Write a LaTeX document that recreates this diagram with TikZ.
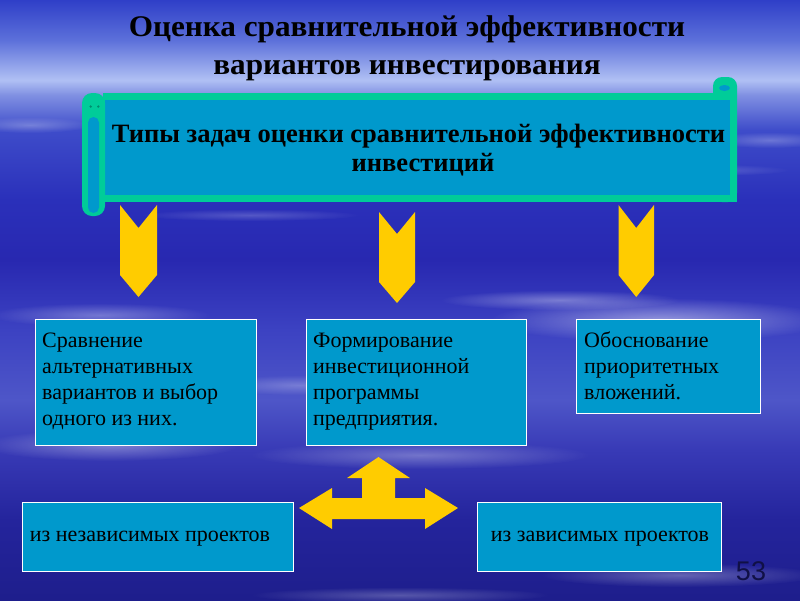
\documentclass[tikz,border=0pt]{standalone}
\usepackage{fontspec}
\setmainfont{Liberation Serif}
\newfontfamily\numfont{Liberation Sans}
\newfontfamily\titlefont[FakeStretch=1.04]{Liberation Serif}
\newfontfamily\boxfont{Liberation Serif}
\usetikzlibrary{fadings}
\tikzfading[name=softcloud, inner color=transparent!0, outer color=transparent!100]
\definecolor{teal}{RGB}{0,204,153}
\definecolor{inner}{RGB}{0,153,204}
\definecolor{gold}{RGB}{255,204,0}
\definecolor{darkteal}{RGB}{0,140,110}
\definecolor{numcol}{RGB}{16,16,70}
\definecolor{b0}{RGB}{47,63,200}
\definecolor{b40}{RGB}{92,112,218}
\definecolor{b80}{RGB}{176,192,244}
\definecolor{b95}{RGB}{128,144,226}
\definecolor{b130}{RGB}{62,76,202}
\definecolor{b200}{RGB}{42,48,186}
\definecolor{b260}{RGB}{40,40,176}
\definecolor{b330}{RGB}{60,66,194}
\definecolor{b400}{RGB}{78,86,200}
\definecolor{b450}{RGB}{56,58,182}
\definecolor{b520}{RGB}{36,36,156}
\definecolor{b600}{RGB}{30,30,140}
\pgfdeclareverticalshading{bgshade}{100bp}{color(0bp)=(b600); color(25bp)=(b600); color(31.67bp)=(b520); color(37.5bp)=(b450); color(41.67bp)=(b400); color(47.5bp)=(b330); color(53.33bp)=(b260); color(58.33bp)=(b200); color(64.17bp)=(b130); color(67.08bp)=(b95); color(68.33bp)=(b80); color(71.67bp)=(b40); color(75bp)=(b0); color(100bp)=(b0)}
\tikzset{
  cloud/.style={fill=white, path fading=softcloud},
  chevron/.style={fill=gold, draw=none},
  infobox/.style={draw=white, line width=1pt, fill=inner},
  boxtext/.style={anchor=base west, inner sep=0pt, font=\boxfont\fontsize{22}{26.3}\selectfont},
  titletext/.style={anchor=base, inner sep=0pt, font=\titlefont\bfseries\fontsize{30}{30}\selectfont},
  scrolltext/.style={anchor=base, inner sep=0pt, font=\bfseries\fontsize{26.5}{26.5}\selectfont},
}
\begin{document}
\begin{tikzpicture}[x=1pt, y=-1pt]
\useasboundingbox (0,0) rectangle (800,600);
% background
\shade[shading=bgshade] (0,0) rectangle (800,600);
\fill[cloud, opacity=0.45] (660,320) ellipse (170 and 22);
\fill[cloud, opacity=0.35] (560,300) ellipse (120 and 10);
\fill[cloud, opacity=0.30] (100,315) ellipse (110 and 12);
\fill[cloud, opacity=0.35] (110,445) ellipse (130 and 16);
\fill[cloud, opacity=0.30] (420,455) ellipse (170 and 14);
\fill[cloud, opacity=0.30] (680,575) ellipse (140 and 12);
\fill[cloud, opacity=0.25] (400,595) ellipse (150 and 8);
\fill[cloud, opacity=0.25] (30,125) ellipse (60 and 8);
\fill[cloud, opacity=0.25] (770,140) ellipse (60 and 8);
\fill[cloud, opacity=0.20] (250,215) ellipse (110 and 6);
\fill[cloud, opacity=0.20] (700,170) ellipse (90 and 6);
\fill[cloud, opacity=0.25] (300,385) ellipse (90 and 10);
% title
\node[titletext] (title1) at (407,36) {Оценка сравнительной эффективности};
\node[titletext] (title2) at (407,74) {вариантов инвестирования};
% scroll
\fill[teal, rounded corners=9pt] (713,77) rectangle (737,202);
\fill[inner] (724.5,88) ellipse (5.5 and 3);
\fill[teal] (103,93) rectangle (737,202);
\fill[inner] (105,100) rectangle (730,195);
\fill[teal, rounded corners=10pt] (82,93) rectangle (105,216);
\fill[inner, rounded corners=5.5pt] (88,117) rectangle (99,213);
\fill[darkteal] (90.7,106.5) circle (1.3);
\fill[darkteal] (98.3,106.5) circle (1.3);
\node[scrolltext] (scroll1) at (418.5,142) {Типы задач оценки сравнительной эффективности};
\node[scrolltext] (scroll2) at (423,171) {инвестиций};
% chevrons
\fill[chevron] (120,205) -- (138.5,228) -- (157,205) -- (157,275) -- (138.5,297) -- (120,275) -- cycle;
\fill[chevron] (379,212) -- (397,234) -- (415,212) -- (415,282) -- (397,303) -- (379,282) -- cycle;
\fill[chevron] (618.5,205) -- (636.25,228) -- (654,205) -- (654,275) -- (636.25,297) -- (618.5,275) -- cycle;
% boxes
\draw[infobox] (35,319) rectangle (256,445);
\draw[infobox] (306,319) rectangle (526,445);
\draw[infobox] (576,319) rectangle (760,413);
\node[boxtext] (t1) at (42,347) {\begin{tabular}[t]{@{}l@{}}Сравнение\\альтернативных\\вариантов и выбор\\одного из них.\end{tabular}};
\node[boxtext] (t2) at (313,347) {\begin{tabular}[t]{@{}l@{}}Формирование\\инвестиционной\\программы\\предприятия.\end{tabular}};
\node[boxtext] (t3) at (584,347) {\begin{tabular}[t]{@{}l@{}}Обоснование\\приоритетных\\вложений.\end{tabular}};
% T-arrow
\fill[gold] (299,508) -- (332,488) -- (332,498) -- (362,498) -- (362,478) -- (347,478) -- (378.5,457) -- (410,478) -- (395,478) -- (395,498) -- (425,498) -- (425,488) -- (458,508) -- (425,529) -- (425,519) -- (332,519) -- (332,529) -- cycle;
% bottom boxes
\draw[infobox] (22,502) rectangle (293,571);
\draw[infobox] (477,502) rectangle (721,571);
\node[boxtext, anchor=base] (b1) at (150,541) {из независимых проектов};
\node[boxtext, anchor=base] (b2) at (600,541) {из зависимых проектов};
% page number
\node[anchor=base, inner sep=0pt, font=\numfont\fontsize{27}{27}\selectfont, text=numcol] (num) at (751,580) {53};
\end{tikzpicture}
\end{document}
